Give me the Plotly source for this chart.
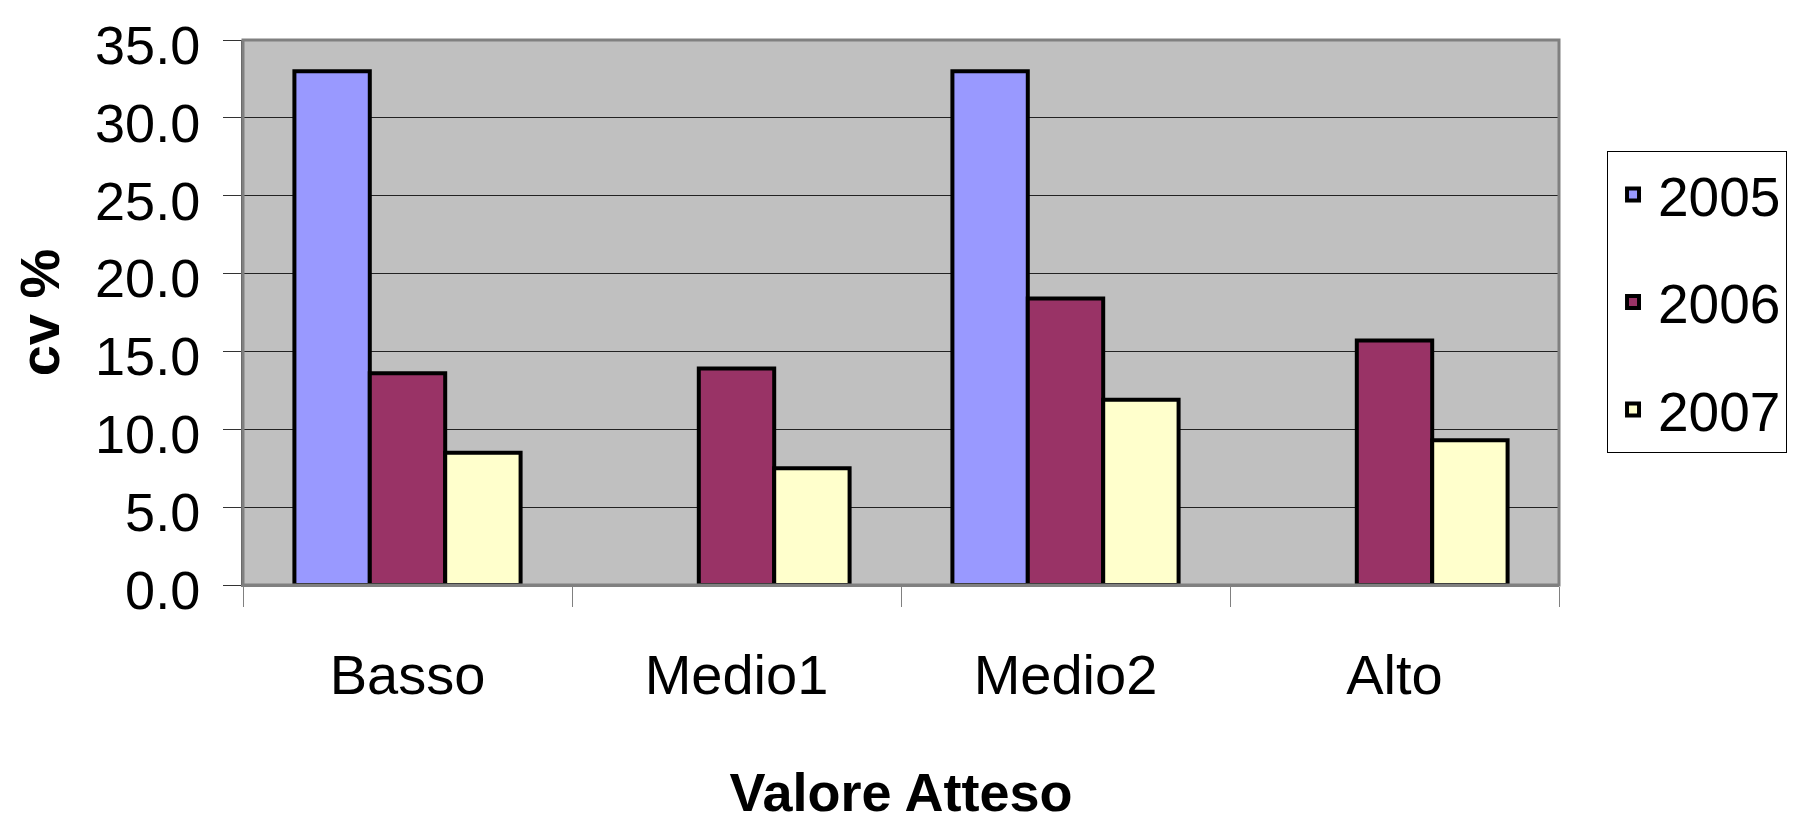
import plotly.graph_objects as go

categories = ["Basso", "Medio1", "Medio2", "Alto"]
years = ["2005", "2006", "2007"]
values_2005 = [33.0, None, 33.0, None]
values_2006 = [13.6, 13.9, 18.4, 15.7]
values_2007 = [8.5, 7.5, 11.9, 9.3]
y_ticks = [0, 5, 10, 15, 20, 25, 30, 35]

series = [values_2005, values_2006, values_2007]
colors = ["#9999FF", "#993366", "#FFFFCC"]

FONT = "Liberation Sans, Arial, sans-serif"

fig = go.Figure()
for name, vals, col in zip(years, series, colors):
    fig.add_trace(go.Bar(
        x=categories, y=vals, name=name, legendgroup=name,
        marker=dict(color=col, line=dict(color="#000000", width=4)),
    ))

# the page body has an 8px margin, so the figure is 8px smaller and shifted
fig.update_layout(
    width=1807, height=814,
    margin=dict(l=235, r=256, t=32, b=237, autoexpand=False),
    paper_bgcolor="#FFFFFF", plot_bgcolor="#C0C0C0",
    barmode="group", bargap=0.3125, bargroupgap=0,
    font=dict(family=FONT, color="#000000"),
    showlegend=True,
    legend=dict(
        x=1.0365, y=0.796, xanchor="left", yanchor="top",
        bgcolor="#FFFFFF", bordercolor="#000000", borderwidth=1,
        font=dict(family=FONT, size=55, color="#000000"),
        tracegroupgap=33, entrywidth=140, itemwidth=40,
    ),
    xaxis=dict(
        type="category", tickson="boundaries", ticks="outside", ticklen=20,
        tickcolor="#808080", tickwidth=1,
        showline=True, linecolor="#808080", linewidth=2,
        showgrid=False, zeroline=False,
        tickfont=dict(family=FONT, size=56),
        ticklabelstandoff=40,
        title=dict(text="<b>Valore Atteso</b>", font=dict(family=FONT, size=54), standoff=69),
    ),
    yaxis=dict(
        range=[0, 35], tickvals=y_ticks, tickformat=".1f",
        ticks="outside", ticklen=18, tickcolor="#333333", tickwidth=1,
        showline=True, linecolor="#555555", linewidth=2,
        showgrid=True, gridcolor="#222222", gridwidth=1, zeroline=False,
        tickfont=dict(family=FONT, size=54),
        ticklabelstandoff=12, ticklabelshift=5,
        title=dict(text="<b>cv %</b>", font=dict(family=FONT, size=56), standoff=30),
    ),
    shapes=[dict(type="rect", xref="paper", yref="paper", x0=0, y0=0, x1=1, y1=1,
                 line=dict(color="#808080", width=3), layer="above")],
)

fig.write_html("out.html")
